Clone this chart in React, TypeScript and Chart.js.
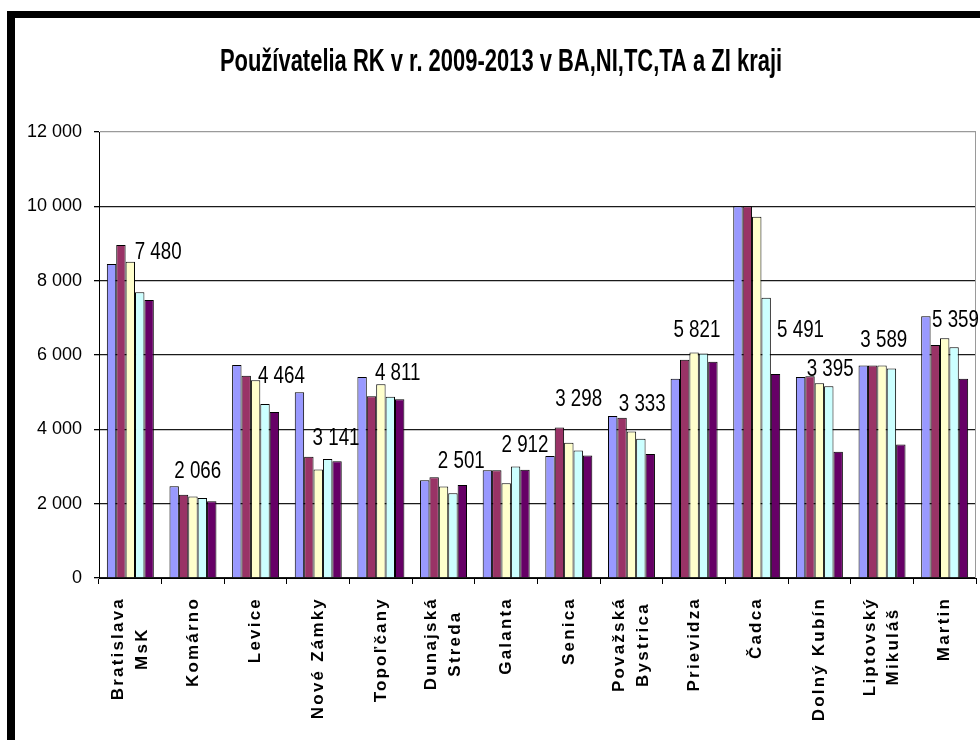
import { useEffect, useRef } from "react";
import { Chart, registerables } from "chart.js";

Chart.register(...registerables);

const TITLE = "Používatelia RK v r. 2009-2013 v BA,NI,TC,TA a ZI kraji";

const categories: string[][] = [
  ["Bratislava", "MsK"],
  ["Komárno"],
  ["Levice"],
  ["Nové Zámky"],
  ["Topoľčany"],
  ["Dunajská", "Streda"],
  ["Galanta"],
  ["Senica"],
  ["Považská", "Bystrica"],
  ["Prievidza"],
  ["Čadca"],
  ["Dolný Kubín"],
  ["Liptovský", "Mikuláš"],
  ["Martin"],
];

const years = ["2009", "2010", "2011", "2012", "2013"];

const v2009 = [8450, 2470, 5730, 5000, 5410, 2630, 2900, 3280, 4360, 5360, 10000, 5410, 5720, 7040];
const v2010 = [8960, 2240, 5440, 3260, 4890, 2710, 2900, 4050, 4310, 5870, 10000, 5430, 5720, 6270];
const v2011 = [8510, 2190, 5320, 2920, 5210, 2460, 2550, 3640, 3940, 6070, 9720, 5240, 5720, 6450];
const v2012 = [7690, 2150, 4680, 3200, 4880, 2280, 3000, 3430, 3750, 6040, 7540, 5160, 5640, 6210];
const v2013 = [7480, 2066, 4464, 3141, 4811, 2501, 2912, 3298, 3333, 5821, 5491, 3395, 3589, 5359];

const yMin = 0;
const yMax = 12000;
const yStep = 2000;

// style
const seriesColors = ["#9999FF", "#993366", "#FFFFCC", "#CCFFFF", "#660066"];
// label offsets (px) from top-centre of the 2013 bar, as placed in the original
const labelOffsets: [number, number][] = [
  [9, 47], [-14, 30], [7, 35], [-1, 23], [-2, 26], [-1, 23], [0, 24],
  [-9, 56], [-8, 49], [-16, 31], [25, 43], [-8, 82], [-17, 104], [-8, 58],
];

const fmt = (v: number) => {
  const s = String(Math.round(v));
  return s.replace(/\B(?=(\d{3})+(?!\d))/g, " ");
};

function narrowFont(ctx: CanvasRenderingContext2D, weight: string, size: number) {
  // use Liberation Sans Narrow if present, else condense Liberation Sans
  ctx.font = `${weight} ${size}px "Liberation Sans Narrow", monospace`;
  const a = ctx.measureText("Používatelia 2009").width;
  ctx.font = `${weight} ${size}px monospace`;
  const b = ctx.measureText("Používatelia 2009").width;
  if (Math.abs(a - b) > 0.5) {
    ctx.font = `${weight} ${size}px "Liberation Sans Narrow"`;
    return 1;
  }
  ctx.font = `${weight} ${size}px "Liberation Sans", Arial, sans-serif`;
  return 0.82;
}

const decorPlugin = {
  id: "decor",
  beforeDatasetsDraw(chart: any) {
    const { ctx, chartArea } = chart;
    ctx.save();
    ctx.strokeStyle = "#9a9a9a";
    ctx.lineWidth = 1;
    ctx.beginPath();
    ctx.moveTo(Math.round(chartArea.right) - 0.5, chartArea.top);
    ctx.lineTo(Math.round(chartArea.right) - 0.5, chartArea.bottom);
    ctx.stroke();
    ctx.restore();
  },
  afterDraw(chart: any) {
    const { ctx } = chart;
    const xs = chart.scales.x;

    // title
    ctx.save();
    const sx = narrowFont(ctx, "bold", 26);
    ctx.fillStyle = "#000";
    ctx.textAlign = "center";
    ctx.textBaseline = "alphabetic";
    ctx.translate(501, 71);
    ctx.scale(sx * 1.03, 1.18);
    ctx.fillText(TITLE, 0, 0);
    ctx.restore();

    // category labels (rotated, centred lines)
    ctx.save();
    ctx.font = 'bold 17px "Liberation Sans", Arial, sans-serif';
    (ctx as any).letterSpacing = "2.2px";
    ctx.fillStyle = "#000";
    ctx.textAlign = "center";
    ctx.textBaseline = "middle";
    const lineH = 23.5;
    categories.forEach((lines, i) => {
      const x = xs.getPixelForTick(i);
      const maxW = Math.max(...lines.map((l) => ctx.measureText(l).width));
      const cy = xs.top + 19 + maxW / 2;
      lines.forEach((l, j) => {
        const lx = x + (j - (lines.length - 1) / 2) * lineH;
        ctx.save();
        ctx.translate(lx, cy);
        ctx.rotate(-Math.PI / 2);
        ctx.fillText(l, 0, 0);
        ctx.restore();
      });
    });
    ctx.restore();

    // data labels for 2013
    const meta = chart.getDatasetMeta(4);
    ctx.save();
    ctx.fillStyle = "#000";
    ctx.textAlign = "center";
    ctx.textBaseline = "middle";
    meta.data.forEach((el: any, i: number) => {
      const [dx, dy] = labelOffsets[i] || [0, 20];
      ctx.save();
      const s = narrowFont(ctx, "normal", 22);
      ctx.translate(el.x + dx, el.y - dy);
      ctx.scale(s * 1.04, 1.05);
      ctx.fillText(fmt(v2013[i]), 0, 0);
      ctx.restore();
    });
    ctx.restore();
  },
};

export default function App() {
  const ref = useRef<HTMLCanvasElement | null>(null);

  useEffect(() => {
    if (!ref.current) return;
    const series = [v2009, v2010, v2011, v2012, v2013];
    const chart = new Chart(ref.current, {
      type: "bar",
      data: {
        labels: categories,
        datasets: series.map((d, i) => ({
          label: years[i],
          data: d,
          backgroundColor: seriesColors[i],
          borderColor: "#000",
          borderWidth: 1,
          categoryPercentage: 0.75,
          barPercentage: 1,
        })),
      },
      options: {
        animation: false,
        responsive: false,
        devicePixelRatio: 1,
        layout: { padding: { top: 132, right: 4, left: 0, bottom: 0 } },
        plugins: {
          legend: { display: false },
          title: { display: false },
          tooltip: { enabled: false },
        },
        scales: {
          x: {
            grid: {
              display: true,
              drawOnChartArea: false,
              drawTicks: true,
              tickLength: 6,
              color: "#000",
              offset: true,
            },
            border: { color: "#000", width: 1 },
            ticks: { color: "rgba(0,0,0,0)", minRotation: 90, maxRotation: 90, autoSkip: false },
            afterFit: (s: any) => {
              s.height = 162;
            },
          },
          y: {
            min: yMin,
            max: yMax,
            ticks: {
              stepSize: yStep,
              color: "#000",
              padding: 12,
              font: { family: '"Liberation Sans", Arial, sans-serif', size: 18 },
              callback: (v: any) => fmt(Number(v)),
            },
            grid: {
              color: (c: any) => (c.tick && c.tick.value === yMax ? "#9a9a9a" : "#1a1a1a"),
              tickColor: "#000",
              tickLength: 5,
              lineWidth: 1.3,
            },
            border: { color: "#000", width: 1 },
            afterFit: (s: any) => {
              s.width = 99;
            },
          },
        },
      } as any,
      plugins: [decorPlugin],
    });
    return () => chart.destroy();
  }, []);

  return (
    <div style={{ position: "absolute", left: 0, top: 0, width: 980, height: 740, background: "#fff", overflow: "hidden" }}>
      <div
        style={{
          position: "absolute",
          left: 7,
          top: 11,
          width: 980,
          height: 740,
          borderTop: "7px solid #000",
          borderLeft: "8px solid #000",
          boxSizing: "border-box",
        }}
      />
      <canvas ref={ref} width={980} height={740} style={{ position: "absolute", left: 0, top: 0, width: 980, height: 740 }} />
    </div>
  );
}
